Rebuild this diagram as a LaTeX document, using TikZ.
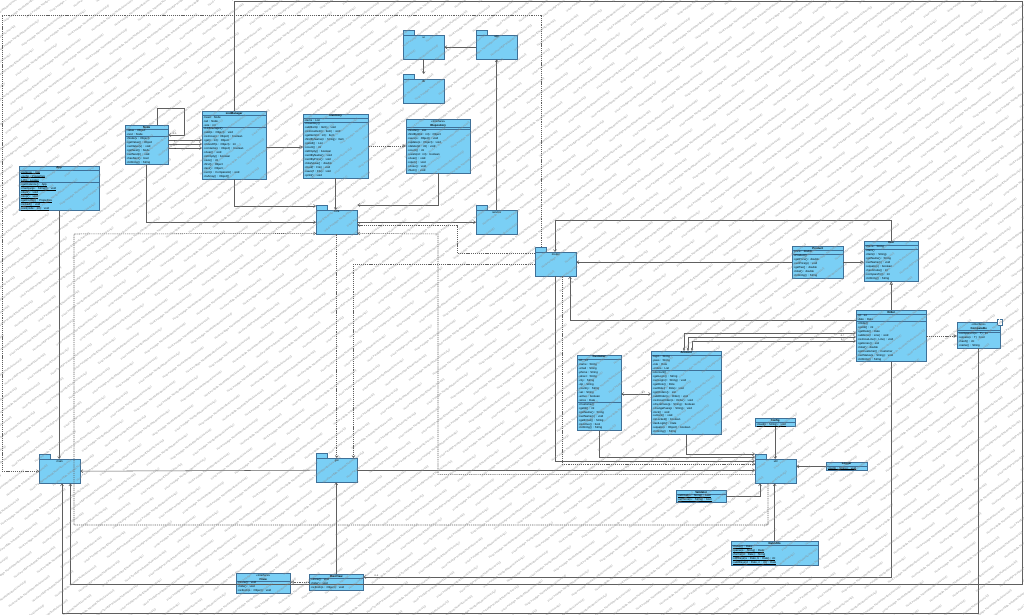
\documentclass[tikz,border=0pt]{standalone}
\usepackage{fontspec}
\setmainfont{Liberation Sans}
\usetikzlibrary{shapes.multipart,arrows.meta,calc,positioning}
\definecolor{clsfill}{RGB}{122,207,245}
\definecolor{clsline}{RGB}{62,112,152}
\definecolor{wirec}{RGB}{95,95,95}
\newcommand\clsfont{\fontsize{2.4}{3.4}\selectfont}
\newcommand\lblfont{\fontsize{1.9}{2.2}\selectfont}
\newcommand\hd[1]{\makebox[\linewidth][c]{#1}}
\newcommand\ul[1]{\leavevmode\setbox0\hbox{#1}\rlap{\rule[-0.45pt]{\wd0}{0.16pt}}\box0}
\newcommand\wmone{Visual Paradigm Standard(Student(University))\hspace{12pt}}
\newcommand\wmfour{\wmone\wmone\wmone\wmone}
\newcommand\wmrow{\wmfour\wmfour\wmfour\wmfour\wmfour\wmfour}
\begin{document}
\begin{tikzpicture}[x=0.03cm,y=-0.03cm,
cls/.style={rectangle split,rectangle split parts=3,draw=clsline,fill=clsfill,line width=0.35pt,anchor=north west,inner xsep=1.2pt,inner ysep=0.5pt,text width=#1,align=left,font=\clsfont},
cls2/.style={cls=#1,rectangle split parts=2},
pkg/.style={draw=clsline,fill=clsfill,line width=0.35pt,anchor=north west,minimum width=1.23cm,minimum height=0.72cm,inner sep=0pt,label={[pkgname]north:#1}},
pkgname/.style={anchor=north,inner sep=0.8pt,font=\clsfont},
tab/.style={draw=clsline,fill=clsfill,line width=0.35pt},
wire/.style={draw=wirec,line width=0.45pt},
nav/.style={wire,-{Straight Barb[length=1.8pt,width=2.6pt]}},
gen/.style={wire,-{Triangle[open,length=2.8pt,width=2.8pt]}},
real/.style={gen,dash pattern=on 1pt off 0.8pt},
dep/.style={nav,dash pattern=on 1pt off 0.8pt},
comp/.style={wire,{Diamond[open,length=3pt,width=2pt]}-{Straight Barb[length=1.8pt,width=2.6pt]}},
lbl/.style={font=\lblfont,inner sep=0.4pt},
wm/.style={font=\fontsize{2.1}{2.4}\selectfont,text=black!45,inner sep=0pt}]
\fill[white] (0,0) rectangle (1024,615);
\useasboundingbox (0,0) rectangle (1024,615);

% classes, left part
\node[cls=2.315cm] (cA) at (19,166) {\hd{\textbf{App}}
\nodepart{second}\ul{-instance : App}\\\ul{-config : Properties}\\\ul{-LOG : Logger}
\nodepart{third}\ul{+getInstance() : App}\\\ul{+main(args : String[]) : void}\\\ul{+start() : void}\\\ul{+stop() : void}\\\ul{+getConfig() : Properties}\\\ul{+reload() : void}\\\ul{+exit(code : int) : void}};
\node[cls=1.205cm] (cB) at (125,125) {\hd{\textbf{Node}}
\nodepart{second}-value : Object\\-next : Node
\nodepart{third}+Node(v : Object)\\+getValue() : Object\\+setValue(v) : void\\+getNext() : Node\\+setNext(n) : void\\+hasNext() : bool\\+toString() : String};
\node[cls=1.835cm] (cC) at (202,111) {\hd{\textbf{ListManager}}
\nodepart{second}-head : Node\\-tail : Node\\-size : int
\nodepart{third}+ListManager()\\+add(o : Object) : void\\+remove(o : Object) : boolean\\+get(i : int) : Object\\+indexOf(o : Object) : int\\+contains(o : Object) : boolean\\+clear() : void\\+isEmpty() : boolean\\+size() : int\\+first() : Object\\+last() : Object\\+sort(c : Comparator) : void\\+toArray() : Object[]};
\node[cls=1.865cm] (cD) at (303,114) {\hd{\textbf{Inventory}}
\nodepart{second}-items : List
\nodepart{third}+Inventory()\\+addItem(i : Item) : void\\+removeItem(i : Item) : void\\+getItem(id : int) : Item\\+findByName(n : String) : Item\\+getAll() : List\\+count() : int\\+isEmpty() : boolean\\+sortByName() : void\\+sortByPrice() : void\\+totalValue() : double\\+load(f : File) : void\\+save(f : File) : void\\+print() : void};
\node[cls=1.835cm] (cE) at (406,119) {\hd{«interface»}\\\hd{\textbf{IRepository}}
\nodepart{second}
\nodepart{third}+findAll() : List\\+findById(id : int) : Object\\+save(o : Object) : void\\+update(o : Object) : void\\+delete(id : int) : void\\+count() : int\\+exists(id : int) : boolean\\+clear() : void\\+open() : void\\+close() : void\\+flush() : void};

% classes, right part
\node[cls=1.445cm] (cF) at (792,246) {\hd{\textbf{Product}}
\nodepart{second}-price : double
\nodepart{third}+Product()\\+getPrice() : double\\+setPrice(p) : void\\+getTax() : double\\+total() : double\\+toString() : String};
\node[cls=1.535cm] (cG) at (864,241) {\hd{\textbf{Item}}
\nodepart{second}-name : String
\nodepart{third}+Item()\\+Item(n : String)\\+getName() : String\\+setName(n) : void\\+equals(o) : boolean\\+hashCode() : int\\+compareTo(i) : int\\+toString() : String};
\node[cls=2.015cm] (cH) at (856,310) {\hd{\textbf{Order}}
\nodepart{second}-id : int\\-date : Date
\nodepart{third}+Order()\\+getId() : int\\+getDate() : Date\\+addLine(l : Line) : void\\+removeLine(l : Line) : void\\+getLines() : List\\+total() : double\\+getCustomer() : Customer\\+setStatus(s : String) : void\\+toString() : String};
\node[cls=1.205cm] (cI) at (957,322) {\hd{«interface»}\\\hd{\textbf{Comparable}}
\nodepart{second}
\nodepart{third}+compareTo(o : T) : int\\+equals(o : T) : bool\\+hash() : int\\+name() : String};
\node[cls=1.235cm] (cJ) at (577,355) {\hd{\textbf{Customer}}
\nodepart{second}-id : int\\-name : String\\-email : String\\-phone : String\\-street : String\\-city : String\\-zip : String\\-country : String\\-vat : String\\-active : boolean\\-since : Date
\nodepart{third}+Customer()\\+getId() : int\\+getName() : String\\+setName(n) : void\\+getEmail() : String\\+isActive() : bool\\+toString() : String};
\node[cls=2.015cm] (cK) at (651,351) {\hd{\textbf{Account}}
\nodepart{second}-login : String\\-pass : String\\-role : Role\\-orders : List
\nodepart{third}+Account()\\+getLogin() : String\\+setLogin(l : String) : void\\+getRole() : Role\\+setRole(r : Role) : void\\+getOrders() : List\\+addOrder(o : Order) : void\\+removeOrder(o : Order) : void\\+checkPass(p : String) : boolean\\+changePass(p : String) : void\\+lock() : void\\+unlock() : void\\+isLocked() : boolean\\+lastLogin() : Date\\+equals(o : Object) : boolean\\+toString() : String};
\node[cls2=1.115cm] (cL) at (755,418) {\hd{\textbf{Config}}
\nodepart{second}\ul{+load(p : String) : void}};
\node[cls2=1.145cm] (cM) at (826,462) {\hd{\textbf{Logger}}
\nodepart{second}\ul{+log(m : String) : void}};
\node[cls2=1.415cm] (cN) at (676,490) {\hd{\textbf{Validator}}
\nodepart{second}\ul{+isEmail(s : String) : bool}\\\ul{+isPhone(s : String) : bool}};
\node[cls2=2.525cm] (cO) at (731,541) {\hd{\textbf{DateUtils}}
\nodepart{second}\ul{+today() : Date}\\\ul{+parse(s : String) : Date}\\\ul{+format(d : Date) : String}\\\ul{+diffDays(a : Date, b : Date) : int}\\\ul{+addDays(d : Date, n : int) : Date}};
\node[cls2=1.535cm] (cP) at (236,573) {\hd{«interface»}\\\hd{\textbf{IView}}
\nodepart{second}+show() : void\\+hide() : void\\+refresh(o : Object) : void};
\node[cls2=1.535cm] (cQ) at (309,574) {\hd{\textbf{MainView}}
\nodepart{second}+show() : void\\+hide() : void\\+refresh(o : Object) : void};
\draw[draw=clsline,fill=white,line width=0.25pt,dash pattern=on 0.6pt off 0.4pt] ($(cI.north east)+(-3,3)$) rectangle ++(5,-6);

% packages
\node[pkg=ui] (p1) at (403,35) {};
\node[pkg=app] (p2) at (476,35) {};
\node[pkg=db] (p3) at (403,79) {};
\node[pkg=core] (p7) at (316,210) {};
\node[pkg=service] (p8) at (476,210) {};
\node[pkg=model] (p9) at (535,252) {};
\node[pkg=util] (p17) at (755,459) {};
\node[pkg=main] (p21) at (39,459) {};
\node[pkg=gui] (p22) at (316,458) {};
\foreach \p in {p1,p2,p3,p7,p8,p9,p17,p21,p22}
  \draw[tab] (\p.north west) rectangle ++(11,-5);

% connectors, top left
\coordinate (lpB) at (184,108);
\draw[nav] ($(cB.north west)+(32,0)$) |- (lpB) |- ($(cB.north east)+(0,10)$) node[lbl,pos=0.8,above]{0..1};
\foreach \dy/\m in {15/1,19/0..*,23/-x} \draw[nav] ($(cB.north east)+(0,\dy)$) -- ($(cC.north west)+(0,\dy+14)$) node[lbl,pos=0.2,below]{\m};
\draw[gen] ($(cC.north east)+(0,36)$) -- ($(cD.north west)+(0,33)$);
\draw[real] ($(cD.north east)+(0,32)$) -- ($(cE.north west)+(0,27)$);
\draw[nav] (p2.west) -- (p1.east);
\draw[nav] (p1.south) -- ($(p3.north)+(0,-5)$);
\draw[nav] (p8.north) -- (p2.south);
\draw[nav] (cC.south) |- ($(p7.north west)+(0,-4)$);
\draw[nav] (cD.south) -- (cD.south |- p7.north);
\draw[nav] (cE.south) |- ($(p7.north east)+(0,-5)$);
\draw[nav] (cB.south) |- (p7.west);
\draw[nav] (p7.east) -- (p8.west);
\draw[nav] (cA.south) -- (cA.south |- p21.north);
\draw[nav] (p22.west) -- (p21.east);

% long routes round the sheet
\coordinate (tr) at (1022,1);
\coordinate (br) at (1022,584);
\draw[nav] (cC.north) |- (tr) -- (br) -| ($(p21.south east)+(-10,0)$);
\draw[nav] (cI.south) |- ($(p21.south west)+(23,130)$) -- ($(p21.south west)+(23,0)$);
\draw[nav] (cH.south) |- ($(cQ.north east)+(0,3)$) node[lbl,pos=0.99,above right]{0..1};
\draw[nav] (cQ.north) -- (cQ.north |- p22.south);
\draw[real] (cQ.west) -- (cQ.west -| cP.east);

% connectors, right part
\draw[nav] (cF.west) -- (cF.west -| p9.east);
\draw[gen] (cF.east) -- (cF.east -| cG.west);
\draw[gen] (cH.north) -- (cH.north |- cG.south);
\draw[nav] ($(cH.north west)+(0,10)$) -| ($(p9.south west)+(35,0)$);
\draw[nav] (cG.north) |- ($(p9.north west)+(20,-32)$) -- ($(p9.north west)+(20,0)$);
\foreach \dx/\dy in {33/23,37/27,41/31}
  \draw[comp] ($(cK.north west)+(\dx,0)$) |- ($(cH.north west)+(0,\dy)$) node[lbl,pos=0.96,above]{0..*};
\draw[wire,{Straight Barb[length=1.8pt,width=2.6pt]}-{Straight Barb[length=1.8pt,width=2.6pt]}] ($(cJ.north east)+(0,39)$) -- ($(cK.north west)+(0,43)$) node[lbl,pos=0.75,above]{1..*};
\draw[real] ($(cH.north east)+(0,26)$) -- ($(cI.north west)+(0,14)$);
\draw[nav] (cK.south) |- ($(p17.north west)+(0,-5)$);
\draw[nav] (cJ.south) |- ($(p17.north west)+(0,-2)$);
\draw[nav] ($(p9.south west)+(20,0)$) |- ($(p17.north west)+(0,2)$);
\draw[dep] ($(p9.south west)+(27,0)$) |- ($(p17.north west)+(0,5)$);
\draw[nav] (p22.east) -- (p22.east -| p17.west);
\draw[nav] (cL.south) -- (cL.south |- p17.north);
\draw[nav] (cM.west) -- (cM.west -| p17.east);
\draw[nav] (cN.east) -| ($(p17.south west)+(5,0)$);
\draw[nav] (cO.north) -- (cO.north |- p17.south);

% dashed dependencies
\coordinate (dl1) at (2,15);
\coordinate (dm2) at (457,225);
\coordinate (d5b) at (438,234);
\coordinate (d5a) at (74,234);
\draw[dep] ($(p9.north west)+(6,-5)$) |- (dl1) |- (p21.west);
\draw[dep] ($(p9.north west)+(0,1)$) -| (dm2) -- ($(p7.north east)+(0,15)$);
\draw[dep] (p9.west) -| ($(p22.north east)+(-4,0)$);
\draw[dep] (p7.south) -- (p22.north);
\draw[dep] ($(p17.south west)+(13,0)$) |- ($(d5a)+(0,291)$) -- (d5a) -- ($(p7.south west)+(0,-1)$);
\draw[dep] ($(p17.south west)+(0,-9)$) -| (d5b) -- ($(p7.south east)+(0,-1)$);

% watermark
\begin{scope}
\clip (0,0) rectangle (1024,615);
\foreach \i in {0,...,112}
  \node[wm,anchor=west,rotate=37] at ({\i*6.02-304+mod(\i,3)*17.6},{\i*7.99+229-mod(\i,3)*13.2}) {\wmrow};
\end{scope}
\end{tikzpicture}
\end{document}
